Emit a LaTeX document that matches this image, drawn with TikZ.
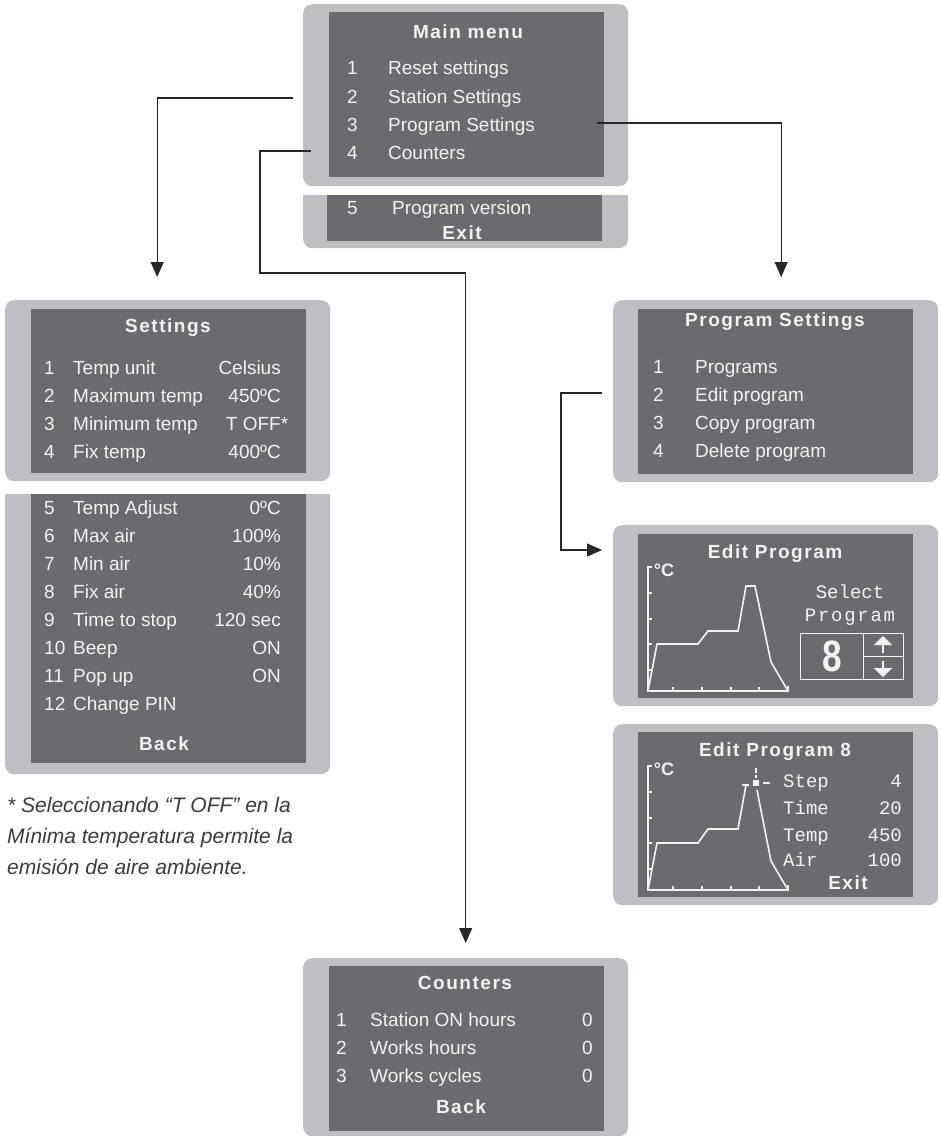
\documentclass[tikz,border=0pt]{standalone}
\usepackage{fontspec}
\setmainfont{Liberation Sans}
\newfontfamily\monofont{Liberation Mono}
\newfontfamily\narrowfont[FakeStretch=0.8]{Liberation Sans}
\usetikzlibrary{arrows.meta, calc, positioning}
\definecolor{framegray}{RGB}{190,191,195}
\definecolor{screengray}{RGB}{106,107,111}
\definecolor{lcdwhite}{RGB}{242,242,242}
\definecolor{linkgray}{RGB}{40,40,40}
\definecolor{notegray}{RGB}{60,60,60}

\tikzset{
  lcdframe/.style={fill=framegray, rounded corners=9pt, minimum width=325pt, inner sep=0pt, anchor=north west},
  lcdscreen/.style={fill=screengray, minimum width=275pt, inner sep=0pt, anchor=north west},
  lcdtext/.style={text=lcdwhite, inner sep=0pt, text height=13pt, text depth=0pt, font=\fontsize{19}{19}\selectfont},
  lcdtitle/.style={lcdtext, font=\fontsize{19}{19}\selectfont\bfseries\addfontfeatures{LetterSpace=8}},
  lcdmono/.style={lcdtext, font=\fontsize{19}{19}\selectfont\monofont},
  link/.style={draw=linkgray, line width=1.1pt, -{Triangle[length=15pt,width=13pt]}},
  curve/.style={draw=lcdwhite, line width=1.6pt},
}

\begin{document}
\begin{tikzpicture}[x=1pt, y=-1pt]
  \useasboundingbox (0,0) rectangle (941,1136);

  % main menu
  \node[lcdframe, minimum height=182pt] (mainframe) at (303,4) {};
  \node[lcdscreen, minimum height=165pt] (mainscreen) at (329,12) {};
  \node[lcdtitle] (maintitle) at (468,32) {Main menu};
  \foreach \n/\lab/\y in {1/Reset settings/68, 2/Station Settings/97, 3/Program Settings/125, 4/Counters/153} {
    \node[lcdtext, anchor=west] (mainnum\n) at (347,\y) {\n};
    \node[lcdtext, anchor=west] (mainitem\n) at (388,\y) {\lab};
  }
  \node[lcdframe, minimum height=53pt] (verframe) at (303,195) {};
  \fill[framegray] (303,195) rectangle (628,212);
  \node[lcdscreen, minimum height=46pt] (verscreen) at (327,195) {};
  \node[lcdtext, anchor=west] (vernum) at (347,208) {5};
  \node[lcdtext, anchor=west] (veritem) at (392,208) {Program version};
  \node[lcdtitle] (verexit) at (462,233) {Exit};

  % settings
  \node[lcdframe, minimum height=181pt] (setframe) at (5,300) {};
  \node[lcdscreen, minimum height=164pt] (setscreen) at (31,309) {};
  \node[lcdtitle] (settitle) at (168,326) {Settings};
  \node[lcdframe, minimum height=280pt] (set2frame) at (5,494) {};
  \fill[framegray] (5,494) rectangle (330,512);
  \node[lcdscreen, minimum height=269pt] (set2screen) at (31,494) {};
  \foreach \n/\lab/\val/\y in {1/Temp unit/Celsius/368, 2/Maximum temp/450ºC/396,
      3/Minimum temp/T OFF\rlap{*}/424, 4/Fix temp/400ºC/452, 5/Temp Adjust/0ºC/508,
      6/Max air/100\%/536, 7/Min air/10\%/564, 8/Fix air/40\%/592,
      9/Time to stop/120 sec/620, 10/Beep/ON/648, 11/Pop up/ON/676} {
    \node[lcdtext, anchor=west] (setnum\n) at (44,\y) {\n};
    \node[lcdtext, anchor=west] (setitem\n) at (73,\y) {\lab};
    \node[lcdtext, anchor=east] (setval\n) at (281,\y) {\val};
  }
  \node[lcdtext, anchor=west] (setnum12) at (44,704) {12};
  \node[lcdtext, anchor=west] (setitem12) at (73,704) {Change PIN};
  \node[lcdtitle] (setback) at (164,744) {Back};

  \node[anchor=north west, align=left, inner sep=0pt, text=notegray,
    font=\fontsize{21}{31}\selectfont\itshape] (note) at (7,797)
    {* Seleccionando “T OFF” en la\\Mínima temperatura permite la\\emisión de aire ambiente.};

  % program settings
  \node[lcdframe, minimum height=182pt] (progframe) at (613,300) {};
  \node[lcdscreen, minimum height=165pt] (progscreen) at (638,309) {};
  \node[lcdtitle] (progtitle) at (775,320) {Program Settings};
  \foreach \n/\lab/\y in {1/Programs/367, 2/Edit program/395, 3/Copy program/423, 4/Delete program/451} {
    \node[lcdtext, anchor=west] (prognum\n) at (653,\y) {\n};
    \node[lcdtext, anchor=west] (progitem\n) at (695,\y) {\lab};
  }

  % edit program
  \node[lcdframe, minimum height=181pt] (editframe) at (613,525) {};
  \node[lcdscreen, minimum height=164pt] (editscreen) at (638,534) {};
  \node[lcdtitle] (edittitle) at (775,552) {Edit Program};
  \node[lcdmono] (editsel) at (850,592) {Select};
  \node[lcdmono, font=\fontsize{19}{19}\selectfont\monofont\addfontfeatures{LetterSpace=9}] (editprog) at (850,615) {Program};
  \node[draw=lcdwhite, line width=1.2pt, minimum width=63pt, minimum height=46pt, inner sep=0pt,
    anchor=north west, text=lcdwhite, font=\fontsize{44}{44}\selectfont\narrowfont\bfseries] (numcell) at (800,633) {8};
  \node[draw=lcdwhite, line width=1.2pt, minimum width=40pt, minimum height=46pt, inner sep=0pt,
    anchor=north west] (arrowcell) at (863,633) {};
  \draw[draw=lcdwhite, line width=1.2pt] (arrowcell.west) -- (arrowcell.east);
  \draw[draw=lcdwhite, line width=2.6pt, -{Triangle[length=9pt,width=18pt]}] (883,653) -- (883,636);
  \draw[draw=lcdwhite, line width=2.6pt, -{Triangle[length=9pt,width=18pt]}] (883,661) -- (883,677);

  % edit program 8
  \node[lcdframe, minimum height=181pt] (edit8frame) at (613,724) {};
  \node[lcdscreen, minimum height=165pt] (edit8screen) at (638,732) {};
  \node[lcdtitle] (edit8title) at (775,750) {Edit Program 8};
  \foreach \lab/\val/\y [count=\i] in {Step/4/781, Time/20/808, Temp/450/835, Air/100/860} {
    \node[lcdmono, anchor=west] (edit8lab\i) at (783,\y) {\lab};
    \node[lcdmono, anchor=east] (edit8val\i) at (902,\y) {\val};
  }
  \node[lcdtitle] (edit8exit) at (848,883) {Exit};

  % both charts
  \foreach \dy/\nm in {0/edit, 199/edit8} {
    \begin{scope}[shift={(0,\dy)}]
      \draw[curve] (652,567) -- (648,567) -- (648,691) -- (788,691) -- (788,686);
      \foreach \t in {593,619,644,670} \draw[curve] (648,\t) -- (652,\t);
      \foreach \t in {673,702,731,759} \draw[curve] (\t,691) -- (\t,687);
      \node[lcdtext, font=\fontsize{18}{18}\selectfont\bfseries] (\nm deg) at (664,570) {°C};
    \end{scope}
  }
  \draw[curve] (648,691) -- (657,644) -- (698,644) -- (708,631) -- (738,631)
    -- (746,586) -- (755,586) -- (771,662) -- (788,691);
  \draw[curve] (648,890) -- (657,843) -- (698,843) -- (708,829) -- (738,829) -- (746,785);
  \draw[curve] (742,785) -- (749,785);
  \fill[lcdwhite] (753,780) rectangle (759,786);
  \draw[curve] (757,790) -- (771,861) -- (788,890);
  \draw[draw=lcdwhite, line width=1.2pt] (756,768) -- (756,773) (756,775) -- (756,778) (763,783) -- (770,783);

  % counters
  \node[lcdframe, minimum height=178pt] (cntframe) at (303,958) {};
  \node[lcdscreen, minimum height=165pt] (cntscreen) at (329,966) {};
  \node[lcdtitle] (cnttitle) at (465,983) {Counters};
  \foreach \n/\lab/\y in {1/Station ON hours/1020, 2/Works hours/1048, 3/Works cycles/1076} {
    \node[lcdtext, anchor=west] (cntnum\n) at (336,\y) {\n};
    \node[lcdtext, anchor=west] (cntitem\n) at (370,\y) {\lab};
    \node[lcdtext, anchor=east] (cntval\n) at (593,\y) {0};
  }
  \node[lcdtitle] (cntback) at (461,1107) {Back};

  % links
  \coordinate (mainleft) at (293,98);
  \coordinate (maincnt) at (311,151);
  \coordinate (cntturn) at (260,273);
  \coordinate (mainprog) at (597,123);
  \coordinate (progedit) at (602,393);
  \coordinate (editturn) at (561,550);
  \draw[link] (mainleft) -| ($(setframe.north)+(-10.5,-23)$);
  \draw[link, shorten >=15pt] (maincnt) -| (cntturn) -| (cntframe.north);
  \draw[link] (mainprog) -| ($(progframe.north)+(5.5,-23)$);
  \draw[link, shorten >=11pt] (progedit) -| (editturn) -- (editturn -| editframe.west);
\end{tikzpicture}
\end{document}
